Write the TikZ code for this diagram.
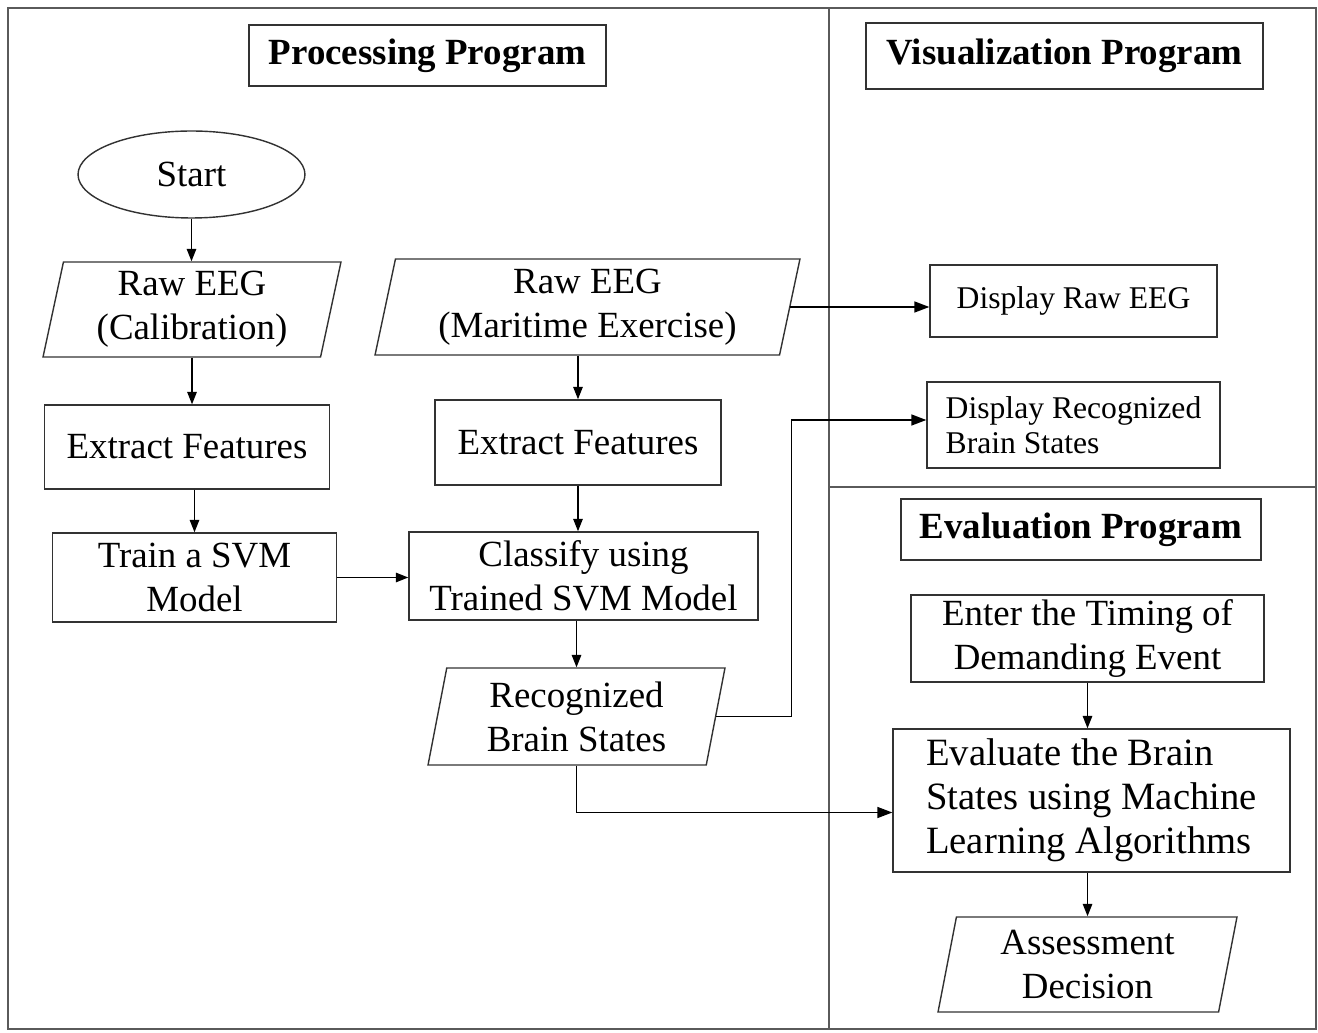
\documentclass[tikz,border=0pt]{standalone}
\usepackage{fontspec}
\setmainfont{Liberation Serif}
\usetikzlibrary{arrows.meta,positioning,calc,shapes.geometric}
\definecolor{edgecol}{RGB}{50,50,50}
\definecolor{framecol}{RGB}{90,90,90}
\tikzset{
  frameln/.style={line width=0.9pt, framecol},
  titlebox/.style={draw=edgecol, line width=0.8pt, inner sep=0pt,
    font=\fontsize{21}{25}\selectfont\bfseries},
  procbox/.style={draw=edgecol, line width=0.8pt, align=center, inner sep=0pt,
    font=\fontsize{21}{25}\selectfont},
  showbox/.style={procbox, align=left, font=\fontsize{18}{20}\selectfont},
  iobox/.style={trapezium, trapezium left angle=75, trapezium right angle=105,
    trapezium stretches body, draw=edgecol, line width=0.8pt, align=center,
    inner sep=0pt, font=\fontsize{21}{25}\selectfont},
  flowarr/.style={-{Triangle[length=2.5mm,width=1.9mm]}, line width=0.85pt, black},
  sidearr/.style={flowarr, -{Triangle[length=3mm,width=2.2mm]}},
}

\begin{document}
\begin{tikzpicture}[x=0.02cm, y=-0.02cm]
    \useasboundingbox (0,0) rectangle (1318,1033);
    % Frame and panels
    \draw[frameln] (8,8) rectangle (1316,1029);
    \draw[frameln] (829,8) -- (829,1029);
    \draw[frameln] (829,487) -- (1316,487);
    % Titles
    \node[titlebox, minimum width=7.14cm, minimum height=1.22cm]
      (tproc) at (427.5,55.5) {Processing Program};
    \node[titlebox, minimum width=7.94cm, minimum height=1.32cm]
      (tvis) at (1064.5,56) {Visualization Program};
    \node[titlebox, minimum width=7.2cm, minimum height=1.22cm]
      (teval) at (1081,529.5) {Evaluation Program};
    % Calibration branch
    \node[ellipse, draw=edgecol, line width=0.8pt, minimum width=4.54cm,
      minimum height=1.74cm, font=\fontsize{21}{25}\selectfont]
      (start) at (191.5,174.5) {Start};
    \node[iobox, minimum width=5.96cm, minimum height=1.9cm]
      (rawcal) at (192,309.5) {Raw EEG\\(Calibration)};
    \node[procbox, minimum width=5.7cm, minimum height=1.68cm]
      (featl) at (187,447) {Extract Features};
    \node[procbox, minimum width=5.68cm, minimum height=1.78cm]
      (train) at (194.5,577.5) {Train a SVM\\Model};
    % Exercise branch
    \node[iobox, minimum width=8.5cm, minimum height=1.92cm]
      (rawmar) at (587.5,307) {Raw EEG\\(Maritime Exercise)};
    \node[procbox, minimum width=5.72cm, minimum height=1.7cm]
      (featr) at (578,442.5) {Extract Features};
    \node[procbox, minimum width=6.98cm, minimum height=1.76cm]
      (classify) at (583.5,576) {Classify using\\Trained SVM Model};
    \node[iobox, minimum width=5.94cm, minimum height=1.94cm]
      (recog) at (576.5,716.5) {Recognized\\Brain States};
    % Visualization
    \node[showbox, minimum width=5.74cm, minimum height=1.44cm]
      (dispraw) at (1073.5,301) {Display Raw EEG};
    \node[showbox, minimum width=5.86cm, minimum height=1.72cm]
      (disprec) at (1073.5,425) {Display Recognized\\Brain States};
    % Evaluation
    \node[procbox, minimum width=7.06cm, minimum height=1.74cm]
      (enter) at (1087.5,638.5) {Enter the Timing of\\Demanding Event};
    \node[procbox, align=left, minimum width=7.94cm, minimum height=2.86cm,
      font=\fontsize{22}{25}\selectfont]
      (evalml) at (1091.5,800.5)
      {Evaluate the Brain\\States using Machine\\Learning Algorithms};
    \node[iobox, minimum width=5.98cm, minimum height=1.9cm]
      (assess) at (1087.5,964.5) {Assessment\\Decision};
    % Connectors
    \draw[flowarr] (start.south) -- (start.south |- rawcal.north);
    \draw[flowarr] (rawcal.south) -- (rawcal.south |- featl.north);
    \draw[flowarr] (train.north |- featl.south) -- (train.north);
    \draw[flowarr] (train.east) -- (train.east -| classify.west);
    \draw[flowarr] (featr.north |- rawmar.south) -- (featr.north);
    \draw[flowarr] (featr.south) -- (featr.south |- classify.north);
    \draw[flowarr] (recog.north |- classify.south) -- (recog.north);
    \draw[sidearr] (rawmar.east) -- (rawmar.east -| dispraw.west);
    \draw[sidearr] (recog.east) -- ++(75,0) |- ($(disprec.west)+(0,-5)$);
    \draw[sidearr] (recog.south) |- ($(evalml.west)+(0,12)$);
    \draw[flowarr] (enter.south) -- (enter.south |- evalml.north);
    \draw[flowarr] (assess.north |- evalml.south) -- (assess.north);
  \end{tikzpicture}
\end{document}
